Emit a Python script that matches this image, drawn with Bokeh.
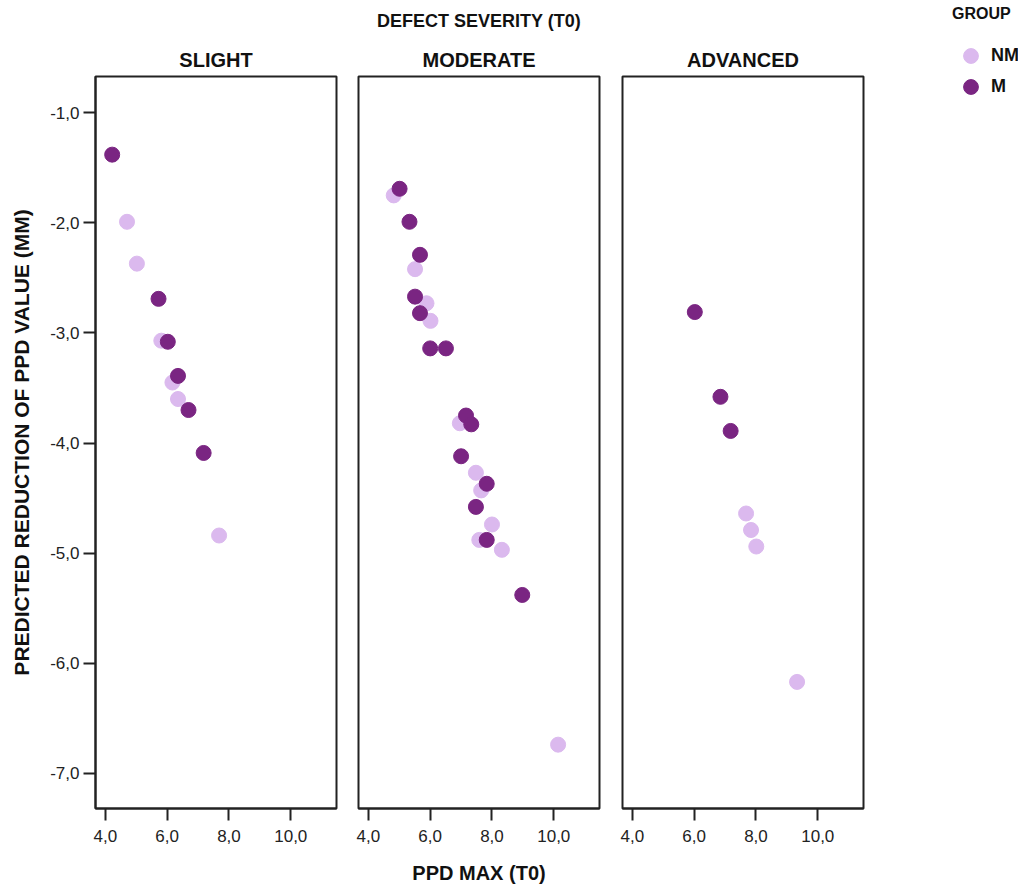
import numpy as np
from bokeh.plotting import figure
from bokeh.layouts import row
from bokeh.models import (Range1d, FixedTicker, CustomJSTickFormatter, Title,
                          Legend, LegendItem)
from bokeh.embed import file_html
from bokeh.resources import INLINE

# ---------------- data ----------------
severity = ["SLIGHT", "MODERATE", "ADVANCED"]
groups = ["NM", "M"]

slight_nm_x = [4.70, 5.02, 5.81, 6.17, 6.35, 7.68]
slight_nm_y = [-1.99, -2.37, -3.07, -3.45, -3.60, -4.84]
slight_m_x = [4.22, 5.72, 6.02, 6.35, 6.69, 7.18]
slight_m_y = [-1.38, -2.69, -3.08, -3.39, -3.70, -4.09]

moderate_nm_x = [4.82, 5.51, 5.88, 6.01, 6.96, 7.48, 7.65, 8.00, 7.59, 8.32, 10.14]
moderate_nm_y = [-1.75, -2.42, -2.73, -2.89, -3.82, -4.27, -4.43, -4.74, -4.88, -4.97, -6.74]
moderate_m_x = [5.01, 5.33, 5.67, 5.51, 5.67, 6.00, 6.51, 7.16, 7.33, 7.00, 7.83, 7.48, 7.83, 8.98]
moderate_m_y = [-1.69, -1.99, -2.29, -2.67, -2.82, -3.14, -3.14, -3.75, -3.83, -4.12, -4.37, -4.58, -4.88, -5.38]

advanced_nm_x = [7.68, 7.84, 8.01, 9.33]
advanced_nm_y = [-4.64, -4.79, -4.94, -6.17]
advanced_m_x = [6.02, 6.85, 7.18]
advanced_m_y = [-2.81, -3.58, -3.89]

x_ticks = [4, 6, 8, 10]
y_ticks = [-7, -6, -5, -4, -3, -2, -1]

x_title = "PPD MAX (T0)"
y_title = "PREDICTED REDUCTION OF PPD VALUE (MM)"
top_title = "DEFECT SEVERITY (T0)"
legend_title = "GROUP"

# ---------------- style ----------------
NM_COLOR = "#dbb9ee"
M_COLOR = "#7a2582"
FONT = "Liberation Sans"
FRAME_W = 241
FRAME_H = 732
TOP = 76

fmt = CustomJSTickFormatter(code="return tick.toFixed(1).replace('.', ',');")


def style_axis(ax, tick_out):
    ax.major_tick_out = tick_out
    ax.major_tick_in = 0
    ax.minor_tick_out = 0
    ax.minor_tick_in = 0
    ax.axis_line_width = 2
    ax.axis_line_color = "#222222"
    ax.major_tick_line_width = 2
    ax.major_tick_line_color = "#222222"
    ax.major_label_text_font = FONT
    ax.major_label_text_font_size = "17px"
    ax.major_label_text_color = "#222222"
    ax.formatter = fmt
    ax.axis_label_text_font = FONT
    ax.axis_label_text_font_style = "bold"
    ax.axis_label_text_font_size = "20px"
    ax.axis_label_text_color = "#111111"


def make_panel(name, nm_x, nm_y, m_x, m_y, left, right, show_y, xlabel, extra_title):
    p = figure(frame_width=FRAME_W, frame_height=FRAME_H,
               x_range=Range1d(3.68, 11.48), y_range=Range1d(-7.32, -0.67),
               output_backend="svg", toolbar_location=None,
               min_border_left=left, min_border_right=right,
               min_border_top=TOP, min_border_bottom=50)
    p.add_layout(Title(text=name, align="center", text_font=FONT,
                       text_font_size="20px", text_font_style="bold",
                       text_color="#111111", standoff=12), "above")
    if extra_title:
        p.add_layout(Title(text=extra_title, align="center", text_font=FONT,
                           text_font_size="18px", text_font_style="bold",
                           text_color="#111111", standoff=16,
                           vertical_align="top"), "above")
    p.grid.visible = False
    p.outline_line_color = "#222222"
    p.outline_line_width = 2
    p.background_fill_color = "white"
    p.border_fill_color = "white"

    p.xaxis.ticker = FixedTicker(ticks=x_ticks)
    style_axis(p.xaxis[0], 12)
    p.xaxis.major_label_standoff = 9
    if xlabel:
        p.xaxis.axis_label = xlabel
        p.xaxis.axis_label_standoff = 17

    if show_y:
        p.yaxis.ticker = FixedTicker(ticks=y_ticks)
        style_axis(p.yaxis[0], 12)
        p.yaxis.major_label_standoff = 4
        p.yaxis.axis_label = y_title
        p.yaxis.axis_label_text_font_size = "21px"
        p.yaxis.axis_label_standoff = 14
    else:
        p.yaxis.visible = False

    p.scatter(nm_x, nm_y, size=15, fill_color=NM_COLOR, line_color=NM_COLOR)
    p.scatter(m_x, m_y, size=15, fill_color=M_COLOR, line_color=M_COLOR)
    return p


p1 = make_panel(severity[0], slight_nm_x, slight_nm_y, slight_m_x, slight_m_y,
                95, 10, True, None, None)
p2 = make_panel(severity[1], moderate_nm_x, moderate_nm_y, moderate_m_x, moderate_m_y,
                12, 11, False, x_title, top_title)
p3 = make_panel(severity[2], advanced_nm_x, advanced_nm_y, advanced_m_x, advanced_m_y,
                12, 10, False, None, None)

# legend figure (legend swatches only; NaN position so nothing is drawn in the plot area)
LEG_TOP = 14
LEG_H = 110
pl = figure(frame_width=66, frame_height=LEG_H, x_range=Range1d(0, 1), y_range=Range1d(0, 1),
            output_backend="svg", toolbar_location=None,
            min_border_left=79, min_border_right=0, min_border_top=LEG_TOP, min_border_bottom=0)
pl.axis.visible = False
pl.grid.visible = False
pl.outline_line_color = None
nan = np.array([np.nan])
r_nm = pl.scatter(x=nan, y=nan, size=15, fill_color=NM_COLOR, line_color=NM_COLOR)
r_m = pl.scatter(x=nan, y=nan, size=15, fill_color=M_COLOR, line_color=M_COLOR)


def style_legend(lg):
    lg.margin = 0
    lg.padding = 0
    lg.border_line_color = None
    lg.background_fill_alpha = 0
    lg.title_text_font = FONT
    lg.title_text_font_style = "bold"
    lg.title_text_font_size = "16px"
    lg.title_text_color = "#111111"
    lg.title_standoff = 14
    lg.label_text_font = FONT
    lg.label_text_font_style = "bold"
    lg.label_text_font_size = "18px"
    lg.label_text_color = "#111111"
    lg.glyph_width = 37
    lg.glyph_height = 37
    lg.label_height = 30
    lg.label_standoff = 2
    lg.spacing = 0


legend_a = Legend(items=[LegendItem(label=groups[0], renderers=[r_nm])],
                  location="top_left", title=legend_title)
style_legend(legend_a)
legend_b = Legend(items=[LegendItem(label=groups[1], renderers=[r_m])],
                  location=(0, LEG_TOP + LEG_H - 114))
style_legend(legend_b)
pl.add_layout(legend_a)
pl.add_layout(legend_b)

layout = row(p1, p2, p3, pl)

with open("out.html", "w") as f:
    f.write(file_html(layout, INLINE))
